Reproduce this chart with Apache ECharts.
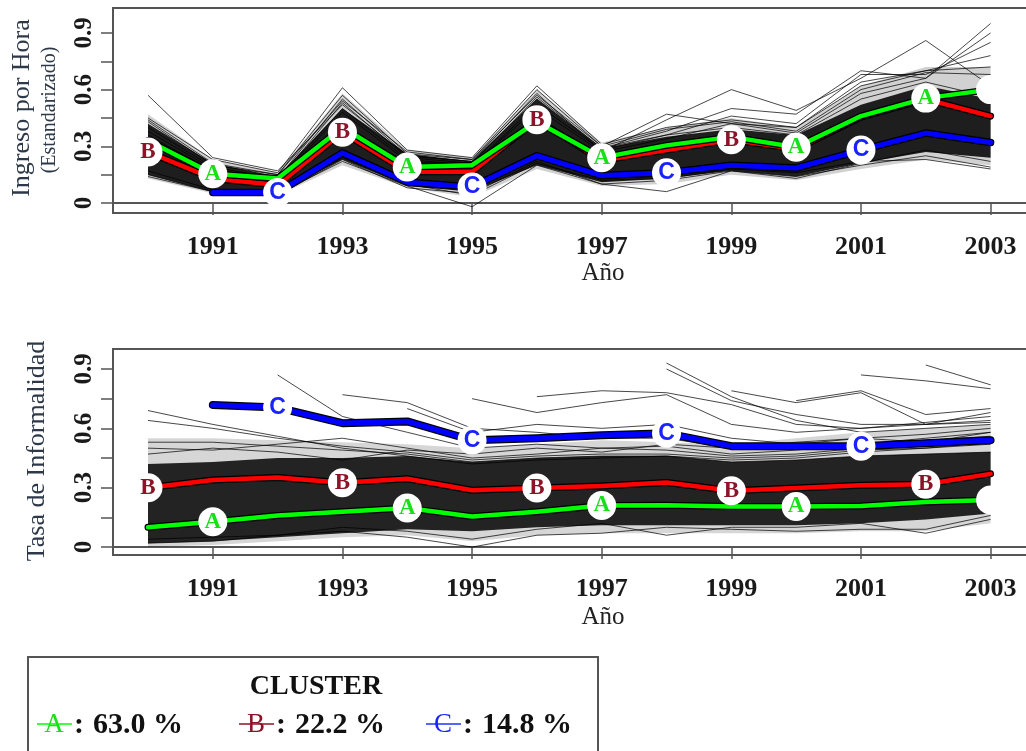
<!DOCTYPE html>
<html>
<head>
<meta charset="utf-8">
<script src="https://cdn.jsdelivr.net/npm/echarts@6/dist/echarts.min.js"></script>
<style>
  html, body { margin: 0; padding: 0; background: #fff; }
  #chart { width: 1026px; height: 751px; }
</style>
</head>
<body>
<div id="chart"></div>
<script>
// Años de observación
const years = [1990, 1991, 1992, 1993, 1994, 1995, 1996, 1997, 1998, 1999, 2000, 2001, 2002, 2003];
const yearTicks = [1991, 1993, 1995, 1997, 1999, 2001, 2003];
const yTicks = [0, 0.15, 0.3, 0.45, 0.6, 0.75, 0.9];
const yLabels = [0, 0.3, 0.6, 0.9];

// Ingreso por hora (estandarizado): trayectorias medias por cluster
const ingresoA = [0.33, 0.155, 0.13, 0.40, 0.19, 0.20, 0.43, 0.24, 0.305, 0.35, 0.295, 0.46, 0.555, 0.60];
const ingresoB = [0.27, 0.13, 0.095, 0.375, 0.165, 0.165, 0.44, 0.225, 0.28, 0.335, 0.285, 0.455, 0.55, 0.46];
const ingresoC = [null, 0.055, 0.055, 0.265, 0.11, 0.085, 0.25, 0.145, 0.16, 0.20, 0.185, 0.28, 0.37, 0.32];

// Tasa de informalidad: trayectorias medias por cluster
const informA = [0.10, 0.128, 0.16, 0.179, 0.197, 0.155, 0.179, 0.21, 0.212, 0.205, 0.205, 0.208, 0.228, 0.238];
const informB = [0.30, 0.339, 0.352, 0.325, 0.345, 0.287, 0.298, 0.309, 0.326, 0.285, 0.298, 0.312, 0.318, 0.37];
const informC = [null, 0.718, 0.705, 0.626, 0.635, 0.54, 0.55, 0.565, 0.575, 0.51, 0.51, 0.51, 0.525, 0.54];

// Franja densa de trayectorias individuales (núcleo y periferia)
const ingresoNucleoBajo = [0.15, 0.06, 0.05, 0.23, 0.09, 0.06, 0.20, 0.11, 0.13, 0.17, 0.14, 0.21, 0.27, 0.24];
const ingresoNucleoAlto = [0.42, 0.21, 0.14, 0.50, 0.26, 0.22, 0.55, 0.29, 0.35, 0.39, 0.36, 0.52, 0.62, 0.55];
const ingresoPeriBajo = [0.13, 0.05, 0.04, 0.20, 0.08, 0.03, 0.18, 0.09, 0.10, 0.15, 0.12, 0.18, 0.23, 0.20];
const ingresoPeriAlto = [0.47, 0.23, 0.16, 0.58, 0.28, 0.24, 0.60, 0.32, 0.40, 0.45, 0.40, 0.62, 0.72, 0.72];

const informNucleoBajo = [0.02, 0.03, 0.05, 0.07, 0.09, 0.08, 0.10, 0.11, 0.11, 0.11, 0.11, 0.12, 0.14, 0.17];
const informNucleoAlto = [0.42, 0.43, 0.45, 0.45, 0.46, 0.43, 0.45, 0.46, 0.46, 0.43, 0.44, 0.46, 0.47, 0.48];
const informPeriBajo = [0.00, 0.01, 0.03, 0.05, 0.06, 0.03, 0.06, 0.07, 0.07, 0.07, 0.07, 0.08, 0.08, 0.12];
const informPeriAlto = [0.55, 0.55, 0.54, 0.53, 0.52, 0.50, 0.52, 0.54, 0.53, 0.52, 0.55, 0.58, 0.60, 0.62];

// Trayectorias individuales que sobresalen de la franja
const ingresoLineas = [
  [0.57, 0.24, 0.17, 0.52, 0.25, 0.22, 0.55, 0.29, 0.36, 0.40, 0.36, 0.55, 0.64, 0.56],
  [0.45, 0.23, 0.16, 0.61, 0.28, 0.24, 0.62, 0.31, 0.40, 0.44, 0.40, 0.62, 0.70, 0.72],
  [0.43, 0.20, 0.15, 0.57, 0.26, 0.23, 0.60, 0.30, 0.47, 0.42, 0.37, 0.58, 0.66, 0.95],
  [0.40, 0.19, 0.13, 0.55, 0.25, 0.22, 0.58, 0.27, 0.44, 0.60, 0.49, 0.66, 0.86, 0.62],
  [0.38, 0.18, 0.12, 0.53, 0.24, 0.21, 0.56, 0.29, 0.38, 0.50, 0.47, 0.70, 0.66, 0.90],
  [0.36, 0.17, 0.12, 0.50, 0.23, 0.20, 0.52, 0.28, 0.36, 0.46, 0.42, 0.68, 0.68, 0.85],
  [0.35, 0.16, 0.11, 0.48, 0.22, 0.20, 0.50, 0.27, 0.34, 0.42, 0.40, 0.64, 0.70, 0.78],
  [0.44, 0.21, 0.15, 0.54, 0.27, 0.23, 0.57, 0.30, 0.39, 0.43, 0.38, 0.60, 0.69, 0.68],
  [0.15, 0.06, 0.05, 0.22, 0.09, -0.02, 0.20, 0.10, 0.06, 0.17, 0.14, 0.20, 0.25, 0.19],
  [0.17, 0.07, 0.05, 0.24, 0.10, 0.04, 0.21, 0.12, 0.13, 0.18, 0.16, 0.22, 0.23, 0.18],
  [0.14, 0.06, 0.04, 0.23, 0.08, 0.05, 0.22, 0.10, 0.12, 0.17, 0.13, 0.21, 0.28, 0.22]
];
const informLineas = [
  [0.69, 0.62, 0.56, 0.50, 0.46, 0.42, 0.44, 0.45, 0.46, 0.43, 0.44, 0.46, 0.47, 0.48],
  [0.64, 0.60, 0.55, 0.51, 0.48, 0.44, 0.46, 0.47, 0.47, 0.45, 0.46, 0.49, 0.50, 0.52],
  [0.53, 0.53, 0.51, 0.49, 0.47, 0.43, 0.45, 0.46, 0.46, 0.44, 0.45, 0.48, 0.50, 0.53],
  [0.50, 0.49, 0.52, 0.55, 0.50, 0.45, 0.47, 0.50, 0.51, 0.47, 0.49, 0.52, 0.54, 0.56],
  [0.47, 0.50, 0.48, 0.44, 0.49, 0.47, 0.50, 0.48, 0.52, 0.50, 0.53, 0.55, 0.53, 0.58],
  [null, null, 0.87, 0.66, 0.58, 0.50, 0.52, 0.50, 0.49, 0.46, 0.47, 0.50, 0.52, 0.55],
  [null, null, null, 0.77, 0.73, 0.60, 0.58, 0.55, 0.55, 0.50, 0.50, 0.52, 0.55, 0.58],
  [null, null, null, null, 0.70, 0.58, 0.62, 0.60, 0.62, 0.55, 0.52, 0.55, 0.57, 0.60],
  [null, null, null, null, null, 0.75, 0.68, 0.73, 0.77, 0.62, 0.58, 0.60, 0.62, 0.64],
  [null, null, null, null, null, null, 0.76, 0.79, 0.78, 0.72, 0.62, 0.60, 0.63, 0.66],
  [null, null, null, null, null, null, null, null, 0.93, 0.76, 0.64, 0.58, 0.60, 0.62],
  [null, null, null, null, null, null, null, null, 0.90, 0.74, 0.67, 0.62, 0.62, 0.68],
  [null, null, null, null, null, null, null, null, null, 0.79, 0.73, 0.78, 0.62, 0.63],
  [null, null, null, null, null, null, null, null, null, null, 0.74, 0.79, 0.67, 0.70],
  [null, null, null, null, null, null, null, null, null, null, null, 0.87, 0.84, 0.80],
  [null, null, null, null, null, null, null, null, null, null, null, null, 0.92, 0.82],
  [0.02, 0.03, 0.06, 0.08, 0.05, 0.00, 0.06, 0.07, 0.10, 0.09, 0.08, 0.09, 0.09, 0.16],
  [0.04, 0.05, 0.06, 0.10, 0.08, 0.04, 0.09, 0.12, 0.06, 0.10, 0.10, 0.12, 0.07, 0.14]
];

// Marcas de cluster sobre las trayectorias medias: [letra, año]
const ingresoMarcas = [['B', 1990], ['A', 1991], ['C', 1992], ['B', 1993], ['A', 1994], ['C', 1995], ['B', 1996],
  ['A', 1997], ['C', 1998], ['B', 1999], ['A', 2000], ['C', 2001], ['A', 2002], ['', 2003]];
const informMarcas = [['B', 1990], ['A', 1991], ['C', 1992], ['B', 1993], ['A', 1994], ['C', 1995], ['B', 1996],
  ['A', 1997], ['C', 1998], ['B', 1999], ['A', 2000], ['C', 2001], ['B', 2002], ['', 2003]];

// Leyenda
const clusterNames = ['A', 'B', 'C'];
const clusterShares = ['63.0 %', '22.2 %', '14.8 %'];

const SERIF = "'Liberation Serif', 'DejaVu Serif', serif";
const lineColors = { A: '#00ff00', B: '#ff0000', C: '#0000ff' };
const letterColors = { A: '#16e016', B: '#8b1428', C: '#1a22ff' };
const legendLineColors = { A: '#00ff00', B: '#8b1428', C: '#2030ff' };
const letterFonts = { A: SERIF, B: SERIF, C: "'Liberation Sans', Arial, sans-serif" };

function pairs(vals) {
  return years.map((y, i) => [y, vals[i] == null ? '-' : vals[i]]);
}

function band(idx, low, high, color) {
  return {
    type: 'custom', xAxisIndex: idx, yAxisIndex: idx, silent: true,
    data: [[years[0], low[0]]],
    renderItem: function (params, api) {
      const pts = [];
      for (let i = 0; i < years.length; i++) pts.push(api.coord([years[i], high[i]]));
      for (let i = years.length - 1; i >= 0; i--) pts.push(api.coord([years[i], low[i]]));
      return { type: 'polygon', shape: { points: pts }, style: { fill: color } };
    }
  };
}

function thin(idx, vals) {
  return {
    type: 'line', xAxisIndex: idx, yAxisIndex: idx, data: pairs(vals), symbol: 'none',
    silent: true, lineStyle: { color: '#000', width: 0.9, opacity: 0.8 }
  };
}

function mean(idx, vals, key, w) {
  return [
    { type: 'line', xAxisIndex: idx, yAxisIndex: idx, data: pairs(vals), symbol: 'none', silent: true,
      lineStyle: { color: '#000', width: w + 2.5, cap: 'round', join: 'round' } },
    { type: 'line', xAxisIndex: idx, yAxisIndex: idx, data: pairs(vals), symbol: 'none', silent: true,
      lineStyle: { color: lineColors[key], width: w, cap: 'round', join: 'round' } }
  ];
}

function marks(idx, list, byKey) {
  return {
    type: 'scatter', xAxisIndex: idx, yAxisIndex: idx, silent: true, z: 5,
    symbol: 'circle', symbolSize: 29,
    itemStyle: { color: '#fff', opacity: 1 },
    data: list.map(([letter, yr]) => {
      const key = letter || 'A';
      const v = byKey[key][years.indexOf(yr)];
      return {
        value: [yr, v],
        label: {
          show: letter !== '', position: 'inside', formatter: letter,
          color: letterColors[key], fontFamily: letterFonts[key], fontWeight: 'bold', fontSize: 23
        }
      };
    })
  };
}

function xAxisDef(idx) {
  return {
    type: 'value', gridIndex: idx, min: 1989.46, max: 2004.58,
    axisLine: { show: true, lineStyle: { color: '#555', width: 2 } },
    axisTick: { show: true, length: 12, inside: false, customValues: yearTicks, lineStyle: { color: '#555', width: 1.5 } },
    axisLabel: { show: true, customValues: yearTicks, margin: 21, formatter: v => String(v),
      fontFamily: SERIF, fontWeight: 'bold', fontSize: 26, color: '#1a1a1a' },
    splitLine: { show: false }
  };
}

function yAxisDef(idx, min, max) {
  return {
    type: 'value', gridIndex: idx, min: min, max: max,
    axisLine: { show: true, lineStyle: { color: '#555', width: 2 } },
    axisTick: { show: true, length: 12, inside: false, customValues: yTicks, lineStyle: { color: '#555', width: 1.5 } },
    axisLabel: { show: true, customValues: yLabels, rotate: 90, margin: 16, formatter: v => String(v),
      fontFamily: SERIF, fontWeight: 'bold', fontSize: 25, color: '#1a1a1a' },
    splitLine: { show: false }
  };
}

const ingresoByKey = { A: ingresoA, B: ingresoB, C: ingresoC };
const informByKey = { A: informA, B: informB, C: informC };

const series = [
  band(0, ingresoPeriBajo, ingresoPeriAlto, 'rgba(0,0,0,0.18)'),
  band(0, ingresoNucleoBajo, ingresoNucleoAlto, 'rgba(0,0,0,0.86)'),
  ...ingresoLineas.map(l => thin(0, l)),
  ...mean(0, ingresoC, 'C', 5),
  ...mean(0, ingresoB, 'B', 4.5),
  ...mean(0, ingresoA, 'A', 4.5),
  marks(0, ingresoMarcas, ingresoByKey),

  band(1, informPeriBajo, informPeriAlto, 'rgba(0,0,0,0.16)'),
  band(1, informNucleoBajo, informNucleoAlto, 'rgba(0,0,0,0.84)'),
  ...informLineas.map(l => thin(1, l)),
  ...mean(1, informC, 'C', 5.5),
  ...mean(1, informB, 'B', 4.5),
  ...mean(1, informA, 'A', 4.5),
  marks(1, informMarcas, informByKey)
];

const centered = { textAlign: 'center', textVerticalAlign: 'middle', align: 'center', verticalAlign: 'middle' };
const leftMid = { textAlign: 'left', textVerticalAlign: 'middle', align: 'left', verticalAlign: 'middle' };

// Leyenda dibujada como recuadro con texto
const legendEls = [
  { type: 'rect', shape: { x: 28, y: 657, width: 570, height: 130 }, style: { fill: '#fff', stroke: '#555', lineWidth: 2 } },
  { type: 'text', x: 316, y: 687, style: Object.assign({ text: 'CLUSTER', font: 'bold 28px ' + SERIF, fill: '#111' }, centered) }
];
const legendX = [37, 239, 426];
clusterNames.forEach((k, i) => {
  const x0 = legendX[i];
  legendEls.push({ type: 'line', shape: { x1: x0, y1: 724, x2: x0 + 35, y2: 724 },
    style: { stroke: legendLineColors[k], lineWidth: 1.6 } });
  legendEls.push({ type: 'text', x: x0 + 17, y: 725,
    style: Object.assign({ text: k, font: '27px ' + SERIF, fill: letterColors[k] }, centered) });
  legendEls.push({ type: 'text', x: x0 + 37, y: 725,
    style: Object.assign({ text: ':', font: 'bold 30px ' + SERIF, fill: '#111' }, leftMid) });
  legendEls.push({ type: 'text', x: x0 + 56, y: 725,
    style: Object.assign({ text: clusterShares[i], font: 'bold 30px ' + SERIF, fill: '#111' }, leftMid) });
});

const axisTexts = [
  { type: 'text', x: 22, y: 108, rotation: Math.PI / 2,
    style: Object.assign({ text: 'Ingreso por Hora', font: '26px ' + SERIF, fill: '#2d3848' }, centered) },
  { type: 'text', x: 50, y: 110, rotation: Math.PI / 2,
    style: Object.assign({ text: '(Estandarizado)', font: '20px ' + SERIF, fill: '#2d3848' }, centered) },
  { type: 'text', x: 37, y: 451, rotation: Math.PI / 2,
    style: Object.assign({ text: 'Tasa de Informalidad', font: '26px ' + SERIF, fill: '#2d3848' }, centered) },
  { type: 'text', x: 603, y: 273, style: Object.assign({ text: 'Año', font: '25px ' + SERIF, fill: '#222' }, centered) },
  { type: 'text', x: 603, y: 617, style: Object.assign({ text: 'Año', font: '25px ' + SERIF, fill: '#222' }, centered) }
];

const chart = echarts.init(document.getElementById('chart'), null, { renderer: 'canvas' });
chart.setOption({
  animation: false,
  backgroundColor: '#fff',
  grid: [
    { left: 113, top: 8, width: 980, height: 205, show: true, borderColor: '#555', borderWidth: 2,
      containLabel: false, outerBoundsMode: 'none' },
    { left: 113, top: 349, width: 980, height: 206, show: true, borderColor: '#555', borderWidth: 2,
      containLabel: false, outerBoundsMode: 'none' }
  ],
  xAxis: [xAxisDef(0), xAxisDef(1)],
  yAxis: [yAxisDef(0, -0.053, 1.032), yAxisDef(1, -0.040, 1.001)],
  series: series,
  graphic: { elements: [...axisTexts, ...legendEls] }
});
</script>
</body>
</html>
